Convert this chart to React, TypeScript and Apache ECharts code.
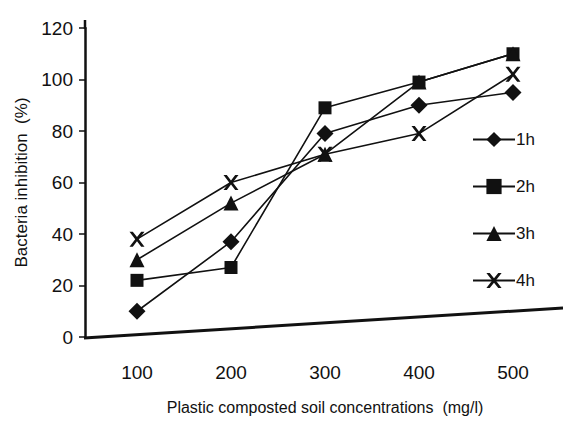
import React, { useEffect, useRef } from "react";
import * as echarts from "echarts";

const categories = ["100", "200", "300", "400", "500"];
const yTicks = { min: 0, max: 120, interval: 20 };
const series1h = [10, 37, 79, 90, 95];
const series2h = [22, 27, 89, 99, 110];
const series3h = [30, 52, 71, 99, 110];
const series4h = [38, 60, 71, 79, 102];
const seriesNames = ["1h", "2h", "3h", "4h"];

const X_SYMBOL =
  "path://M0,0 L2.2,0 L5,3.6 L7.8,0 L10,0 L6.2,5 L10,10 L7.8,10 L5,6.4 L2.2,10 L0,10 L3.8,5 Z";

const FONT = "'Liberation Sans', Arial, sans-serif";

export default function App() {
  const ref = useRef<HTMLDivElement>(null);
  useEffect(() => {
    if (!ref.current) return;
    const chart = echarts.init(ref.current, null, { renderer: "svg" });
    const mk = (name: string, data: number[], symbol: string, size: number) => ({
      name,
      type: "line",
      data,
      symbol,
      symbolSize: size,
      showSymbol: true,
      lineStyle: { color: "#111", width: 1.6 },
      itemStyle: { color: "#111" },
      z: 3,
    });
    chart.setOption({
      animation: false,
      backgroundColor: "#fff",
      textStyle: { fontFamily: FONT },
      grid: { left: 90, right: 3, top: 28, bottom: 86, containLabel: false },
      legend: {
        orient: "vertical",
        left: 467,
        top: 126,
        itemWidth: 42,
        itemHeight: 19,
        itemGap: 30,
        data: seriesNames,
        textStyle: { fontSize: 17, color: "#111", fontFamily: FONT, padding: [0, 0, 0, -4] },
      },
      xAxis: {
        type: "category",
        data: categories,
        boundaryGap: true,
        axisLine: { show: false },
        axisTick: { show: false },
        axisLabel: { fontSize: 19, color: "#111", margin: 26, fontFamily: FONT },
        name: "Plastic composted soil concentrations  (mg/l)",
        nameLocation: "middle",
        nameGap: 62,
        nameTextStyle: { fontSize: 16, color: "#111", fontFamily: FONT },
        splitLine: { show: false },
      },
      yAxis: {
        type: "value",
        min: yTicks.min,
        max: yTicks.max,
        interval: yTicks.interval,
        offset: 5,
        axisLine: { show: true, lineStyle: { color: "#111", width: 2.5 } },
        axisTick: { show: true, length: 6, lineStyle: { color: "#111", width: 1.5 } },
        axisLabel: { fontSize: 19, color: "#111", margin: 12, fontFamily: FONT },
        splitLine: { show: false },
        name: "Bacteria inhibition  (%)",
        nameLocation: "middle",
        nameGap: 52,
        nameRotate: 90,
        nameTextStyle: { fontSize: 17, color: "#111", fontFamily: FONT },
      },
      graphic: [
        {
          type: "line",
          shape: { x1: 84, y1: 338, x2: 563, y2: 308 },
          style: { stroke: "#111", lineWidth: 3 },
          z: 10,
        },
        {
          type: "line",
          shape: { x1: 85, y1: 20, x2: 85, y2: 29 },
          style: { stroke: "#111", lineWidth: 2.5 },
          z: 10,
        },
      ],
      series: [
        mk("1h", series1h, "diamond", 17),
        mk("2h", series2h, "rect", 13),
        mk("3h", series3h, "triangle", 15),
        mk("4h", series4h, X_SYMBOL, 15),
      ],
    });
    return () => chart.dispose();
  }, []);
  return <div ref={ref} style={{ width: 563, height: 423, position: "absolute", left: 0, top: 0 }} />;
}
